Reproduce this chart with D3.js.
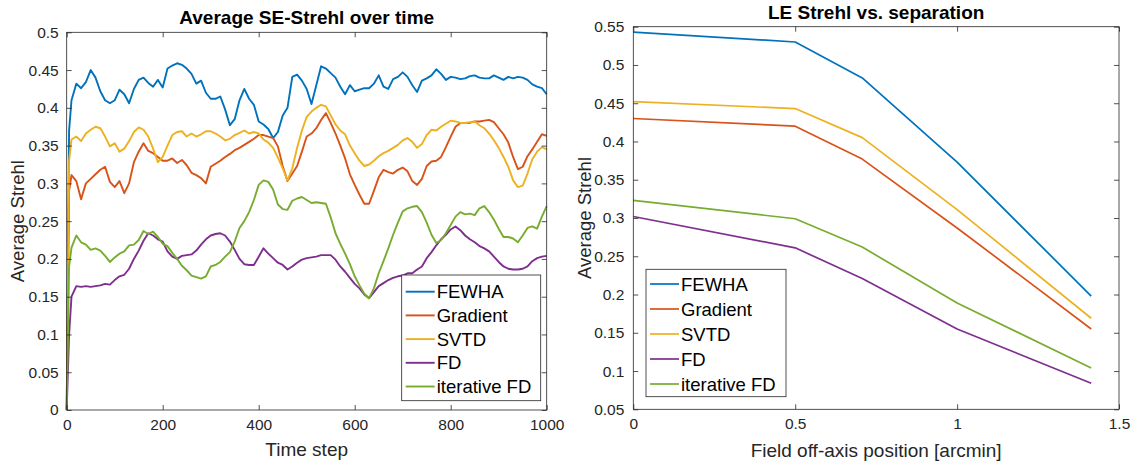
<!DOCTYPE html>
<html><head><meta charset="utf-8">
<script src="https://cdn.jsdelivr.net/npm/d3@7"></script>
<style>
body{margin:0;background:#fff;}
svg{display:block;font-family:"Liberation Sans",Arial,Helvetica,sans-serif;}
</style></head>
<body><svg id="c" width="1137" height="465"></svg>
<script>
// ---------- DATA ----------
const seriesNames = ["FEWHA","Gradient","SVTD","FD","iterative FD"];
const timeSteps = [0,5].concat(d3.range(10,1001,10));
const fewha = [0,0.37,0.41,0.432,0.426,0.434,0.450,0.44,0.422,0.41,0.406,0.41,0.424,0.418,0.406,0.425,0.437,0.44,0.433,0.428,0.437,0.427,0.452,0.456,0.459,0.457,0.452,0.445,0.432,0.436,0.42,0.412,0.412,0.415,0.398,0.377,0.385,0.41,0.425,0.412,0.404,0.382,0.378,0.372,0.36,0.368,0.39,0.40,0.441,0.444,0.436,0.425,0.405,0.43,0.455,0.452,0.446,0.44,0.428,0.418,0.43,0.422,0.424,0.426,0.426,0.432,0.443,0.428,0.425,0.438,0.441,0.447,0.441,0.43,0.421,0.436,0.439,0.443,0.451,0.445,0.437,0.441,0.440,0.438,0.439,0.442,0.443,0.440,0.439,0.439,0.443,0.44,0.437,0.441,0.439,0.441,0.440,0.437,0.431,0.428,0.426,0.418];
const gradient = [0,0.29,0.311,0.303,0.279,0.3,0.306,0.312,0.318,0.322,0.302,0.295,0.303,0.287,0.3,0.328,0.342,0.353,0.343,0.34,0.335,0.33,0.33,0.333,0.327,0.331,0.324,0.314,0.311,0.307,0.3,0.322,0.326,0.33,0.335,0.339,0.344,0.347,0.351,0.355,0.359,0.364,0.364,0.362,0.36,0.349,0.323,0.303,0.313,0.323,0.342,0.362,0.366,0.373,0.384,0.393,0.380,0.366,0.35,0.333,0.312,0.298,0.285,0.273,0.273,0.29,0.308,0.318,0.315,0.313,0.318,0.321,0.316,0.303,0.298,0.306,0.323,0.329,0.33,0.335,0.348,0.362,0.375,0.38,0.38,0.38,0.382,0.382,0.383,0.384,0.381,0.373,0.365,0.354,0.335,0.319,0.322,0.336,0.345,0.355,0.365,0.363];
const svtd = [0,0.33,0.358,0.362,0.356,0.366,0.371,0.375,0.373,0.362,0.349,0.353,0.342,0.346,0.356,0.368,0.374,0.371,0.362,0.346,0.328,0.335,0.350,0.364,0.368,0.369,0.362,0.366,0.362,0.365,0.369,0.369,0.366,0.362,0.357,0.359,0.364,0.367,0.370,0.366,0.368,0.366,0.358,0.354,0.347,0.334,0.320,0.304,0.32,0.347,0.37,0.388,0.395,0.40,0.404,0.402,0.39,0.378,0.37,0.365,0.35,0.34,0.33,0.323,0.325,0.33,0.336,0.34,0.343,0.347,0.351,0.357,0.360,0.355,0.347,0.352,0.364,0.371,0.37,0.375,0.379,0.383,0.382,0.380,0.380,0.381,0.382,0.377,0.373,0.366,0.357,0.347,0.335,0.322,0.304,0.295,0.297,0.313,0.332,0.342,0.348,0.345];
const fd = [0,0.1,0.15,0.164,0.163,0.164,0.163,0.164,0.165,0.167,0.166,0.172,0.177,0.179,0.187,0.2,0.211,0.224,0.234,0.231,0.226,0.223,0.21,0.203,0.2,0.204,0.205,0.206,0.211,0.219,0.226,0.231,0.233,0.234,0.231,0.223,0.212,0.2,0.193,0.192,0.192,0.203,0.214,0.207,0.201,0.195,0.192,0.186,0.19,0.195,0.199,0.201,0.202,0.203,0.205,0.205,0.205,0.199,0.19,0.183,0.175,0.167,0.161,0.153,0.148,0.156,0.164,0.168,0.172,0.175,0.177,0.178,0.181,0.181,0.186,0.19,0.201,0.209,0.218,0.226,0.232,0.239,0.243,0.238,0.231,0.226,0.222,0.217,0.214,0.21,0.203,0.196,0.19,0.187,0.186,0.186,0.187,0.19,0.197,0.201,0.203,0.204];
const iterFd = [0,0.19,0.215,0.231,0.222,0.219,0.212,0.214,0.211,0.204,0.196,0.202,0.207,0.21,0.218,0.219,0.225,0.237,0.233,0.236,0.229,0.22,0.217,0.208,0.2,0.191,0.185,0.178,0.176,0.174,0.177,0.19,0.192,0.196,0.203,0.209,0.223,0.241,0.25,0.262,0.278,0.298,0.304,0.302,0.292,0.272,0.266,0.265,0.277,0.28,0.282,0.278,0.274,0.275,0.274,0.273,0.255,0.234,0.22,0.207,0.193,0.177,0.165,0.154,0.148,0.161,0.181,0.197,0.214,0.232,0.248,0.263,0.267,0.269,0.27,0.262,0.248,0.232,0.221,0.225,0.234,0.245,0.256,0.262,0.259,0.26,0.258,0.267,0.27,0.262,0.252,0.24,0.229,0.229,0.227,0.222,0.231,0.241,0.243,0.24,0.256,0.27];

const separation = [0,0.5,0.7071,1,1.4142];
const leFewha    = [0.543,0.530,0.483,0.373,0.198];
const leGradient = [0.430,0.420,0.377,0.287,0.155];
const leSvtd     = [0.452,0.443,0.405,0.311,0.169];
const leFd       = [0.302,0.261,0.221,0.155,0.084];
const leIterFd   = [0.323,0.299,0.262,0.189,0.104];

const leftXTicks = [0,200,400,600,800,1000];
const leftYTicks = [0,0.05,0.1,0.15,0.2,0.25,0.3,0.35,0.4,0.45,0.5];
const rightXTicks = [0,0.5,1,1.5];
const rightYTicks = [0.05,0.1,0.15,0.2,0.25,0.3,0.35,0.4,0.45,0.5,0.55];

const colors = ["#0072BD","#D95319","#EDB120","#7E2F8E","#77AC30"];

// ---------- DRAW ----------
const svg = d3.select("#c");
const fmt = d => String(+d.toFixed(2));
const axisColor = "#262626";

function panel(opt){
  const g = svg.append("g");
  const x = d3.scaleLinear().domain(opt.xDomain).range([opt.x0,opt.x1]);
  const y = d3.scaleLinear().domain(opt.yDomain).range([opt.y1,opt.y0]);
  // box background
  g.append("rect").attr("x",opt.x0).attr("y",opt.y0).attr("width",opt.x1-opt.x0).attr("height",opt.y1-opt.y0)
    .attr("fill","#fff");
  // lines
  const line = d3.line().x(d=>x(d[0])).y(d=>y(d[1]));
  opt.series.forEach((s,i)=>{
    g.append("path").datum(opt.xs.map((xv,j)=>[xv,s[j]]))
      .attr("d",line).attr("fill","none").attr("stroke",colors[i])
      .attr("stroke-width",opt.lw).attr("stroke-linejoin","round");
  });
  // axes
  const styleAxis = (sel, labels) => {
    sel.select(".domain").remove();
    sel.selectAll(".tick line").attr("stroke",axisColor).attr("stroke-width",0.8);
    sel.selectAll(".tick text").attr("fill",axisColor).style("font-size","15.5px")
      .style("font-family","'Liberation Sans',Arial,sans-serif");
    if(!labels) sel.selectAll(".tick text").remove();
  };
  g.append("g").attr("transform",`translate(0,${opt.y1})`)
    .call(d3.axisBottom(x).tickValues(opt.xTicks).tickFormat(fmt).tickSizeInner(-5).tickSizeOuter(0).tickPadding(9))
    .call(s=>styleAxis(s,true));
  g.append("g").attr("transform",`translate(0,${opt.y0})`)
    .call(d3.axisTop(x).tickValues(opt.xTicks).tickSizeInner(-5).tickSizeOuter(0))
    .call(s=>styleAxis(s,false));
  g.append("g").attr("transform",`translate(${opt.x0},0)`)
    .call(d3.axisLeft(y).tickValues(opt.yTicks).tickFormat(fmt).tickSizeInner(-5).tickSizeOuter(0).tickPadding(opt.yPad))
    .call(s=>styleAxis(s,true));
  g.append("g").attr("transform",`translate(${opt.x1},0)`)
    .call(d3.axisRight(y).tickValues(opt.yTicks).tickSizeInner(-5).tickSizeOuter(0))
    .call(s=>styleAxis(s,false));
  g.selectAll(".tick text").filter(function(){return this.parentNode.parentNode.getAttribute("transform").startsWith("translate(0,"+opt.y1);})
    ;
  // frame
  g.append("rect").attr("x",opt.x0).attr("y",opt.y0).attr("width",opt.x1-opt.x0).attr("height",opt.y1-opt.y0)
    .attr("fill","none").attr("stroke",axisColor).attr("stroke-width",0.8);
  // title
  g.append("text").attr("x",(opt.x0+opt.x1)/2).attr("y",opt.titleY).attr("text-anchor","middle")
    .style("font-weight","bold").style("font-size","19px").attr("fill","#000").text(opt.title);
  // x label
  g.append("text").attr("x",(opt.x0+opt.x1)/2).attr("y",opt.xLabelY).attr("text-anchor","middle")
    .style("font-size","19px").attr("fill",axisColor).text(opt.xLabel);
  // y label
  g.append("text").attr("transform",`translate(${opt.yLabelX},${(opt.y0+opt.y1)/2}) rotate(-90)`)
    .attr("text-anchor","middle").style("font-size","18.5px").attr("fill",axisColor).text(opt.yLabel);
  // legend
  const L = opt.legend;
  const lg = g.append("g");
  lg.append("rect").attr("x",L.x).attr("y",L.y).attr("width",L.w).attr("height",L.h)
    .attr("fill","#fff").attr("stroke",axisColor).attr("stroke-width",0.8);
  seriesNames.forEach((n,i)=>{
    const cy = L.y + L.first + i*L.dy;
    lg.append("line").attr("x1",L.x+4).attr("x2",L.x+33).attr("y1",cy).attr("y2",cy)
      .attr("stroke",colors[i]).attr("stroke-width",opt.lw);
    lg.append("text").attr("x",L.x+35).attr("y",cy+6.5).style("font-size","18.5px").attr("fill","#000").text(n);
  });
}

panel({
  x0:66.7, x1:546.7, y0:32.3, y1:410,
  xDomain:[0,1000], yDomain:[0,0.5],
  xs:timeSteps, series:[fewha,gradient,svtd,fd,iterFd], lw:1.9,
  xTicks:leftXTicks, yTicks:leftYTicks, yPad:8,
  title:"Average SE-Strehl over time", titleY:24,
  xLabel:"Time step", xLabelY:456, yLabel:"Average Strehl", yLabelX:24,
  legend:{x:401.7,y:275,w:139,h:125.7,first:16.7,dy:23.7}
});
panel({
  x0:633.3, x1:1119, y0:26.7, y1:409.3,
  xDomain:[0,1.5], yDomain:[0.05,0.55],
  xs:separation, series:[leFewha,leGradient,leSvtd,leFd,leIterFd], lw:1.7,
  xTicks:rightXTicks, yTicks:rightYTicks, yPad:9,
  title:"LE Strehl vs. separation", titleY:18.5,
  xLabel:"Field off-axis position [arcmin]", xLabelY:456.5, yLabel:"Average Strehl", yLabelX:590.5,
  legend:{x:646,y:269.3,w:140,h:127.4,first:14.7,dy:25}
});
</script></body></html>
